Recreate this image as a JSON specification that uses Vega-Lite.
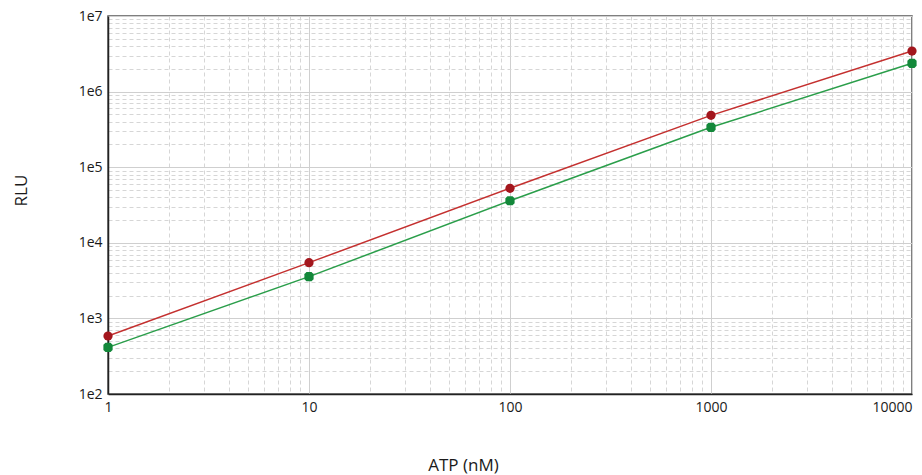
{
  "$schema": "https://vega.github.io/schema/vega-lite/v6.json",
  "width": 804,
  "height": 378,
  "autosize": "none",
  "padding": {"left": 108, "top": 16, "right": 10, "bottom": 81},
  "background": "white",
  "config": {
    "view": {"stroke": "#555", "strokeWidth": 1.5},
    "font": "Open Sans",
    "axis": {"labelFont": "Open Sans", "titleFont": "Open Sans", "labelColor": "#1a1a1a", "titleColor": "#1a1a1a", "labelFontSize": 14, "titleFontSize": 17, "titleFontWeight": "normal", "ticks": false, "domainColor": "#222", "domainWidth": 1.5}
  },
  "data": {
    "values": [
      {"atp": 1, "rlu": 585, "series": "A"},
      {"atp": 10, "rlu": 5460, "series": "A"},
      {"atp": 100, "rlu": 52600, "series": "A"},
      {"atp": 1000, "rlu": 485000, "series": "A"},
      {"atp": 10000, "rlu": 3440000, "series": "A"},
      {"atp": 1, "rlu": 414, "series": "B"},
      {"atp": 10, "rlu": 3565, "series": "B"},
      {"atp": 100, "rlu": 36000, "series": "B"},
      {"atp": 1000, "rlu": 337000, "series": "B"},
      {"atp": 10000, "rlu": 2370000, "series": "B"}
    ]
  },
  "encoding": {
    "x": {
      "field": "atp", "type": "quantitative",
      "scale": {"type": "log", "domain": [1, 10000], "nice": false},
      "axis": {
        "title": "ATP (nM)",
        "values": [1,2,3,4,5,6,7,8,9,10,20,30,40,50,60,70,80,90,100,200,300,400,500,600,700,800,900,1000,2000,3000,4000,5000,6000,7000,8000,9000,10000],
        "labelExpr": "abs(log(datum.value)/LN10 - round(log(datum.value)/LN10)) < 0.001 ? format(datum.value, 'd') : ''",
        "labelOverlap": false,
        "labelPadding": 6,
        "labelAlign": {"condition": {"test": "datum.value == 10000", "value": "right"}, "value": "center"},
        "gridColor": {"condition": {"test": "abs(log(datum.value)/LN10 - round(log(datum.value)/LN10)) < 0.001", "value": "#cfcfcf"}, "value": "#d6d6d6"},
        "gridDash": {"condition": {"test": "abs(log(datum.value)/LN10 - round(log(datum.value)/LN10)) < 0.001", "value": []}, "value": [4, 3]},
        "gridWidth": 1,
        "titleX": 355,
        "titleY": 71,
        "titleBaseline": "middle",
        "titleAlign": "center"
      }
    },
    "y": {
      "field": "rlu", "type": "quantitative",
      "scale": {"type": "log", "domain": [100, 10000000], "nice": false},
      "axis": {
        "title": "RLU",
        "values": [100,200,300,400,500,600,700,800,900,1000,2000,3000,4000,5000,6000,7000,8000,9000,10000,20000,30000,40000,50000,60000,70000,80000,90000,100000,200000,300000,400000,500000,600000,700000,800000,900000,1000000,2000000,3000000,4000000,5000000,6000000,7000000,8000000,9000000,10000000],
        "labelExpr": "abs(log(datum.value)/LN10 - round(log(datum.value)/LN10)) < 0.001 ? '1e' + round(log(datum.value)/LN10) : ''",
        "labelOverlap": false,
        "labelPadding": 6,
        "gridColor": {"condition": {"test": "abs(log(datum.value)/LN10 - round(log(datum.value)/LN10)) < 0.001", "value": "#cfcfcf"}, "value": "#d6d6d6"},
        "gridDash": {"condition": {"test": "abs(log(datum.value)/LN10 - round(log(datum.value)/LN10)) < 0.001", "value": []}, "value": [4, 3]},
        "gridWidth": 1,
        "titleAngle": -90,
        "titleX": -87,
        "titleY": 174,
        "titleAlign": "center",
        "titleBaseline": "middle"
      }
    }
  },
  "layer": [
    {
      "mark": {"type": "line", "strokeWidth": 1.5, "clip": false},
      "encoding": {
        "stroke": {"field": "series", "type": "nominal", "scale": {"domain": ["A", "B"], "range": ["#c4302f", "#2a9e4a"]}, "legend": null}
      }
    },
    {
      "mark": {"type": "point", "filled": true, "opacity": 1, "size": 85, "clip": false},
      "encoding": {
        "fill": {"field": "series", "type": "nominal", "scale": {"domain": ["A", "B"], "range": ["#a3161d", "#13883a"]}, "legend": null},
        "shape": {"field": "series", "type": "nominal", "scale": {"domain": ["A", "B"], "range": ["circle", "M-1,-0.55L-0.55,-1L0.55,-1L1,-0.55L1,0.55L0.55,1L-0.55,1L-1,0.55Z"]}, "legend": null}
      }
    }
  ]
}
